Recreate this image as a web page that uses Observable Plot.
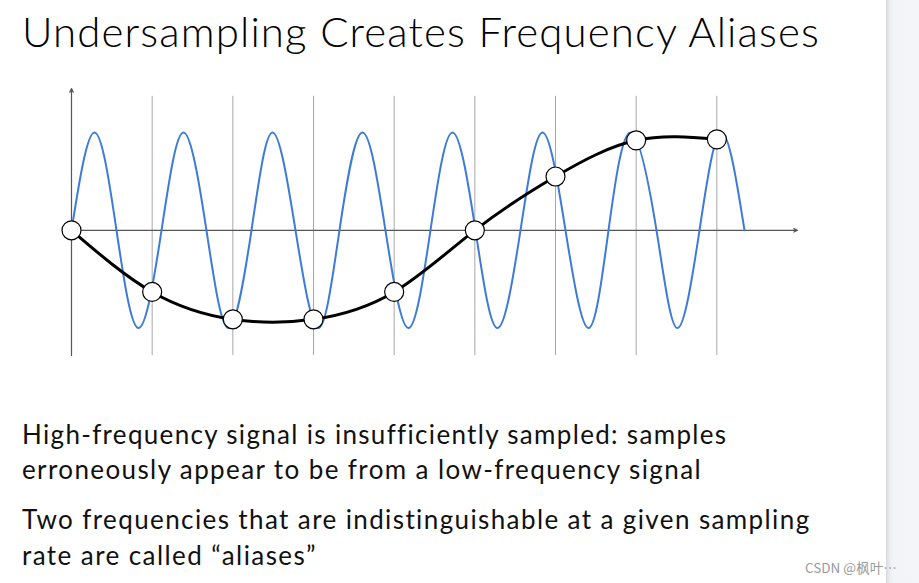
<!DOCTYPE html>
<html>
<head>
<meta charset="utf-8">
<script src="https://cdn.jsdelivr.net/npm/d3@7"></script>
<script src="https://cdn.jsdelivr.net/npm/@observablehq/plot@0.6"></script>
<style>
  html, body { margin: 0; padding: 0; background: #ffffff; width: 919px; height: 583px; overflow: hidden; }
  .txt { position: absolute; left: 22px; white-space: nowrap; font-family: Lato, "Open Sans", sans-serif; color: #111; line-height: 1; font-weight: 400; }
  #t0 { font-weight: 300; color: #000; }
  #chart { position: absolute; left: 0; top: 70px; }
  #band { position: absolute; left: 886px; top: 0; width: 33px; height: 583px;
          background: linear-gradient(to right, #d9dadd 0px, #eceef1 4px, #f3f4f7 8px, #f4f5f8 33px); }
  #wm { position: absolute; left: 805px; top: 557px; font-family: "Noto Sans CJK SC", "DejaVu Sans", sans-serif; font-size: 13.5px; color: #9a9a9a; white-space: nowrap; }
</style>
</head>
<body>
<div id="band"></div>
<div class="txt" id="t0" data-fs="42" data-w="798" data-b="47">Undersampling Creates Frequency Aliases</div>
<div id="chart"></div>
<div class="txt" id="t1" data-fs="26" data-w="704" data-b="444">High-frequency signal is insufficiently sampled: samples</div>
<div class="txt" id="t2" data-fs="26" data-w="680" data-b="479">erroneously appear to be from a low-frequency signal</div>
<div class="txt" id="t3" data-fs="26" data-w="789" data-b="529">Two frequencies that are indistinguishable at a given sampling</div>
<div class="txt" id="t4" data-fs="26" data-w="295" data-b="565">rate are called “aliases”</div>
<div id="wm">CSDN @枫叶⋯</div>
<script>
// Sample positions (in sample-interval units) and the sampled (aliased) values
const sampleX = [0, 1, 2, 3, 4, 5, 6, 7, 8];
const sampleY = [0, -0.63, -0.91, -0.91, -0.63, 0, 0.55, 0.92, 0.93];

// High-frequency signal: zero crossings, peaks and troughs
const waveX = [0, 0.285, 0.558, 0.831, 1.116, 1.388, 1.673, 1.946, 2.231, 2.492, 2.777, 3.062, 3.322,
  3.607, 3.892, 4.177, 4.450, 4.723, 5.008, 5.281, 5.566, 5.839, 6.124, 6.409, 6.657, 6.930,
  7.252, 7.512, 7.785, 8.058, 8.343];
const waveY = [0, 1, 0, -1, 0, 1, 0, -1, 0, 1, 0, -1, 0,
  1, 0, -1, 0, 1, 0, -1, 0, 1, 0, -1, 0, 1,
  0, -1, 0, 1, 0];

// Vertical sample lines
const gridX = [1, 2, 3, 4, 5, 6, 7, 8];

const samples = sampleX.map((x, i) => ({x, y: sampleY[i]}));
const wave = waveX.map((x, i) => ({x, y: waveY[i]}));

const chart = Plot.plot({
  width: 919,
  height: 300,
  marginLeft: 71,
  marginRight: 122,
  marginTop: 18,
  marginBottom: 15,
  x: {domain: [0, 9], axis: null},
  y: {domain: [-1.28, 1.45], axis: null},
  style: {background: "transparent", overflow: "visible"},
  marks: [
    Plot.ruleX(gridX, {y1: -1.28, y2: 1.37, stroke: "#a8a8a8", strokeWidth: 1}),
    Plot.arrow([{x1: 0, y1: 0, x2: 9, y2: 0}], {x1: "x1", y1: "y1", x2: "x2", y2: "y2", stroke: "#555", strokeWidth: 1.2, headLength: 5, headAngle: 50}),
    Plot.arrow([{x1: 0, y1: -1.28, x2: 0, y2: 1.45}], {x1: "x1", y1: "y1", x2: "x2", y2: "y2", stroke: "#555", strokeWidth: 1.2, headLength: 5, headAngle: 50}),
    Plot.line(wave, {x: "x", y: "y", curve: "natural", stroke: "#3d7bd9", strokeWidth: 2}),
    Plot.line(samples, {x: "x", y: "y", curve: "natural", stroke: "#000", strokeWidth: 3}),
    Plot.dot(samples, {x: "x", y: "y", r: 9.5, fill: "#fff", stroke: "#000", strokeWidth: 1.2})
  ]
});
document.getElementById("chart").appendChild(chart);

// fixed font size per line; letter spacing fitted to the width, baseline placed as in the reference
document.querySelectorAll(".txt").forEach(el => {
  el.style.fontSize = el.dataset.fs + "px";
  el.style.top = "0px";
  const w = el.getBoundingClientRect().width;
  const n = el.textContent.length;
  el.style.letterSpacing = ((+el.dataset.w - w) / n) + "px";
  const m = document.createElement("span");
  m.style.display = "inline-block"; m.style.width = "0"; m.style.height = "0";
  el.appendChild(m);
  const base = m.getBoundingClientRect().top;
  el.style.top = (+el.dataset.b - base) + "px";
});
</script>
</body>
</html>
